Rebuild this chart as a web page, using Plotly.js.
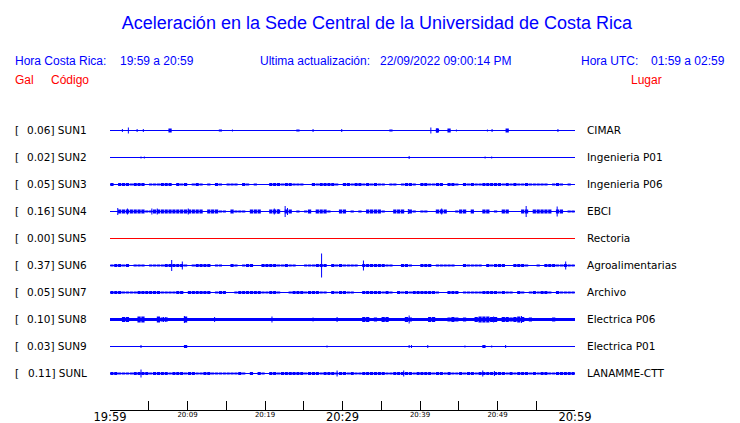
<!DOCTYPE html>
<html>
<head>
<meta charset="utf-8">
<script src="https://cdn.plot.ly/plotly-3.0.1.min.js"></script>
<style>html,body{margin:0;padding:0;background:#fff;}#chart{width:740px;height:423px;}</style>
</head>
<body>
<div id="chart"></div>
<script>
// ---------------- DATA ----------------
const stations = ['SUN1','SUN2','SUN3','SUN4','SUN5','SUN6','SUN7','SUN8','SUN9','SUNL'];
const peaks = ['0.06','0.02','0.05','0.16','0.00','0.37','0.05','0.10','0.03','0.11'];
const places = ['CIMAR','Ingenieria P01','Ingenieria P06','EBCI','Rectoria','Agroalimentarias','Archivo','Electrica P06','Electrica P01','LANAMME-CTT'];
const tickMinutes = [0,5,10,15,20,25,30,35,40,45,50,55,60];
const tickLabels = ['19:59','','20:09','','20:19','','20:29','','20:39','','20:49','','20:59'];
const majorLabels = ['19:59','20:29','20:59'];

// envelope (peak-to-peak) per half-minute bin, 120 bins over 19:59-20:59
const envSUN1 = [0,0,0,0,0,0,0,0,0,0,0,0,0,0,0,4,0,0,0,0, 0,0,0,0,0,0,0,0,2,0,0,0,0,0,0,0,0,0,0,0,
                 0,0,0,0,0,0,0,0,2,0,0,0,0,0,0,0,0,0,0,0, 0,0,0,0,0,0,0,0,0,0,0,0,2,0,0,0,0,0,0,0,
                 0,0,0,0,4,0,0,4,0,0,0,0,0,0,0,0,0,0,0,0, 0,0,4,0,0,0,0,0,0,0,0,0,0,0,0,0,0,0,0,0];
const envSUN2 = [];
const envSUN3 = [3,0,3,3,3,2,3,3,3,0,2,2,2,3,3,3,0,3,2,3, 0,2,3,2,0,2,0,3,2,0,2,2,2,0,3,2,0,2,0,0,
                 0,3,3,3,2,3,3,2,2,2,0,0,3,2,3,3,3,3,2,0, 3,3,2,3,3,2,3,2,3,2,2,0,2,2,0,2,3,3,2,0,
                 3,3,2,2,3,3,0,3,3,2,0,3,2,3,2,2,3,3,3,3, 3,2,3,2,3,2,2,3,2,2,2,2,2,0,2,3,2,0,2,0];
const envSUN4 = [0,0,4,4,4,4,4,4,4,2,2,4,4,4,4,4,4,4,4,4, 4,4,4,4,0,4,4,4,2,2,0,4,2,2,2,0,4,4,4,0,
                 0,4,4,4,0,4,4,0,2,0,2,4,0,4,4,4,2,0,0,4, 4,0,2,0,2,0,4,4,4,4,2,0,0,4,4,4,0,4,2,0,
                 2,2,0,0,4,4,4,0,0,2,4,4,0,4,0,0,4,4,0,2, 0,4,4,0,0,0,4,4,0,4,4,4,4,4,0,4,4,0,2,2];
const envSUN5 = [];
const envSUN6 = [2,3,3,2,3,0,2,2,2,0,2,2,2,2,3,3,3,3,3,2, 0,2,3,3,3,3,0,2,2,0,0,3,2,0,2,3,3,0,0,3,
                 3,3,3,2,2,3,2,2,0,0,2,2,2,3,3,3,0,3,2,3, 2,2,2,2,0,3,3,3,3,3,3,2,2,0,0,3,3,2,0,0,
                 3,3,3,0,2,2,2,2,2,0,0,3,2,2,2,2,0,3,2,3, 3,3,0,0,3,3,3,2,0,0,2,0,3,3,3,2,2,3,2,2];
const envSUN7 = [3,3,3,2,2,2,2,3,3,3,3,3,3,2,2,2,2,3,3,0, 3,3,3,3,3,3,0,2,3,3,0,0,2,3,3,3,3,3,3,2,
                 2,3,3,2,0,0,2,3,3,3,2,3,3,3,2,2,0,3,2,3, 3,2,2,0,0,3,3,3,3,3,2,3,2,0,3,2,3,2,3,3,
                 3,3,3,3,2,0,0,3,3,3,0,2,2,2,2,2,3,3,3,3, 2,3,2,2,0,3,2,0,2,3,2,3,3,2,0,3,2,2,2,2];
const envSUN8 = [0,0,0,5,5,0,0,6,6,0,0,0,6,4,4,0,0,0,0,6, 0,0,0,0,0,0,0,0,0,0,0,0,0,0,0,0,0,0,0,0,
                 0,0,0,0,0,0,0,0,0,0,0,0,0,0,0,0,0,0,0,0, 0,0,0,0,0,5,5,0,4,0,5,5,0,0,0,0,5,4,0,0,
                 0,0,5,5,0,0,0,4,5,4,0,4,0,0,5,6,6,6,5,5, 0,5,5,4,5,6,5,0,4,0,0,0,0,0,4,0,0,0,0,0];
const envSUN9 = [0,0,0,0,0,0,0,0,0,0,0,0,0,0,0,0,0,0,0,3, 0,0,0,0,0,0,0,0,0,0,0,0,0,0,0,0,0,0,0,0,
                 0,0,0,0,0,0,0,0,0,0,0,0,0,0,0,0,0,0,0,0, 0,0,0,0,0,0,0,0,0,0,0,0,0,0,0,0,0,0,0,0,
                 0,0,0,0,0,0,0,0,0,0,0,0,0,0,0,0,3,0,0,0, 0,0,0,0,0,0,0,0,0,0,0,0,0,0,0,0,0,0,0,0];
const envSUNL = [3,3,2,2,2,2,3,3,3,3,2,3,3,3,3,2,3,3,3,2, 3,3,2,2,3,3,2,2,2,2,2,2,2,3,2,0,3,0,3,2,
                 0,3,3,2,3,3,3,3,3,3,2,3,3,3,2,3,3,3,2,3, 3,2,3,2,2,3,3,3,3,3,3,2,2,3,3,3,3,3,2,3,
                 3,3,3,2,3,3,2,3,2,2,3,2,3,3,2,3,3,3,3,3, 3,3,2,3,2,3,3,3,2,3,2,3,3,2,2,3,3,3,3,3];
// continuous background noise (peak-to-peak)
const baseNoise = [0,0,0,0,0,0,0,2,0,0];

// isolated spikes: [minute, peak-to-peak]
const spkSUN1 = [[1.6,3],[2.37,6],[3.5,3],[4.3,3],[15.8,2],[26.2,3],[29.9,3],[41.4,6],[42.2,5],[44.7,2],[48.7,2],[49.3,3],[57.8,3]];
const spkSUN2 = [[4.0,2],[4.43,2],[38.6,3],[48.4,2],[49.25,2]];
const spkSUN3 = [];
const spkSUN4 = [[1.0,7],[2.25,6],[5.4,6],[6.1,6],[10.1,6],[21.2,6],[21.7,5],[22.6,11],[22.9,7],[38.5,5],[42.8,6],[53.7,11],[57.7,10]];
const spkSUN5 = [];
const spkSUN6 = [[7.96,11],[9.33,8],[27.3,24],[32.7,10],[58.8,8]];
const spkSUN7 = [[0.3,3]];
const spkSUN8 = [[6.9,5],[7.2,5],[9.6,7],[13.5,5],[20.9,6],[26.2,4],[29.3,5],[38.6,8],[49.5,6],[53.1,7]];
const spkSUN9 = [[4.0,3],[28.0,2],[38.6,3],[38.9,3],[41.0,3],[45.8,2],[49.25,2],[51.05,3]];
const spkSUNL = [[4.0,8],[29.3,6],[37.9,6],[48.1,6],[49.6,5]];

const envs = [envSUN1,envSUN2,envSUN3,envSUN4,envSUN5,envSUN6,envSUN7,envSUN8,envSUN9,envSUNL];
const spikes = [spkSUN1,spkSUN2,spkSUN3,spkSUN4,spkSUN5,spkSUN6,spkSUN7,spkSUN8,spkSUN9,spkSUNL];

// ---------------- DRAW ----------------
const W = 740, H = 423;
const ROW = 27;                 // pixel spacing of rows
const Y0 = 130.5;               // pixel centre of first row
const U = 1 / ROW;              // data units per pixel
const BLUE = '#0000ff', RED = '#ff0000';
const AX_Y = 409.5;

const traces = [];
stations.forEach((s, i) => {
  const col = (peaks[i] === '0.00') ? RED : BLUE;
  traces.push({type:'scatter', mode:'lines', x:[0,60], y:[i,i],
    line:{color:col, width:1 + baseNoise[i]}, hoverinfo:'skip'});
  const bx = [], by = [], bb = [];
  envs[i].forEach((v, k) => {
    if (v > 0) { bx.push(k*0.5 + 0.25); by.push(v*U); bb.push(i - v*U/2); }
  });
  if (bx.length) traces.push({type:'bar', x:bx, y:by, base:bb, width:0.42,
    marker:{color:col, line:{width:0}}, hoverinfo:'skip'});
  const sx = [], sy = [];
  spikes[i].forEach(([t, h]) => { sx.push(t, t, null); sy.push(i - h*U/2, i + h*U/2, null); });
  if (sx.length) traces.push({type:'scatter', mode:'lines', x:sx, y:sy,
    line:{color:col, width:1}, hoverinfo:'skip', connectgaps:false});
});
// carrier trace for the minor-label axis
traces.push({type:'scatter', mode:'markers', x:[0], y:[null], xaxis:'x2', yaxis:'y', hoverinfo:'skip'});

const SANS = 'Liberation Sans, Arial, sans-serif';
const DJV = 'DejaVu Sans, sans-serif';
const ann = [];
function txt(text, xpx, ypx, anchor, color, size, family) {
  ann.push({text, xref:'paper', yref:'paper', x:xpx/W, y:1 - ypx/H,
    xanchor:anchor, yanchor:'middle', showarrow:false,
    font:{family, size, color}});
}
txt('Hora Costa Rica:', 13, 61, 'left', BLUE, 12, SANS);
txt('19:59 a 20:59', 118, 61, 'left', BLUE, 12, SANS);
txt('Ultima actualización:', 258, 61, 'left', BLUE, 12, SANS);
txt('22/09/2022 09:00:14 PM', 378, 61, 'left', BLUE, 12, SANS);
txt('Hora UTC:', 579, 61, 'left', BLUE, 12, SANS);
txt('01:59 a 02:59', 727, 61, 'right', BLUE, 12, SANS);
txt('Gal', 13, 80, 'left', RED, 12, SANS);
txt('Código', 49, 80, 'left', RED, 12, SANS);
txt('Lugar', 629, 80, 'left', RED, 12, SANS);

stations.forEach((s, i) => {
  ann.push({text:'[', xref:'paper', yref:'y', x:13/W, y:i - 0.02, xanchor:'left', yanchor:'middle',
    showarrow:false, font:{family:DJV, size:10.5, color:'#000'}});
  ann.push({text:peaks[i] + '] ' + s, xref:'paper', yref:'y', x:89/W, y:i - 0.02, xanchor:'right', yanchor:'middle',
    showarrow:false, font:{family:DJV, size:10.5, color:'#000'}});
  ann.push({text:places[i], xref:'paper', yref:'y', x:585/W, y:i - 0.02, xanchor:'left', yanchor:'middle',
    showarrow:false, font:{family:DJV, size:10.5, color:'#000'}});
});

const majorText = tickLabels.map(l => majorLabels.includes(l) ? l : '');
const minorText = tickLabels.map(l => majorLabels.includes(l) ? '' : l);

const axCommon = {domain:[110/W, 575/W], range:[0,60], anchor:'free', position:(H - AX_Y)/H,
  tickmode:'array', tickvals:tickMinutes, showgrid:false, zeroline:false, fixedrange:true};

const layout = {
  width:W, height:H, margin:{l:0, r:0, t:0, b:0, pad:0},
  paper_bgcolor:'#fff', plot_bgcolor:'#fff', showlegend:false, barmode:'overlay',
  title:{text:'Aceleración en la Sede Central de la Universidad de Costa Rica',
    font:{family:SANS, size:18, color:BLUE}, x:377/W, xanchor:'center',
    xref:'paper', y:1 - 23/H, yref:'container', yanchor:'middle'},
  xaxis:Object.assign({}, axCommon, {showline:true, linecolor:'#000', linewidth:1,
    ticks:'inside', ticklen:9, tickwidth:1, tickcolor:'#000', ticktext:majorText,
    ticklabelstandoff:-3,
    tickfont:{family:DJV, size:11.5, color:'#000'}}),
  xaxis2:Object.assign({}, axCommon, {overlaying:'x', showline:false, ticks:'',
    ticktext:minorText, ticklabelstandoff:-1,
    tickfont:{family:DJV, size:7, color:'#000'}}),
  yaxis:{domain:[0,1], range:[(H - Y0)/ROW, -Y0/ROW], visible:false, showgrid:false, zeroline:false, fixedrange:true},
  annotations:ann
};

Plotly.newPlot('chart', traces, layout, {staticPlot:true, displayModeBar:false});
</script>
</body>
</html>
